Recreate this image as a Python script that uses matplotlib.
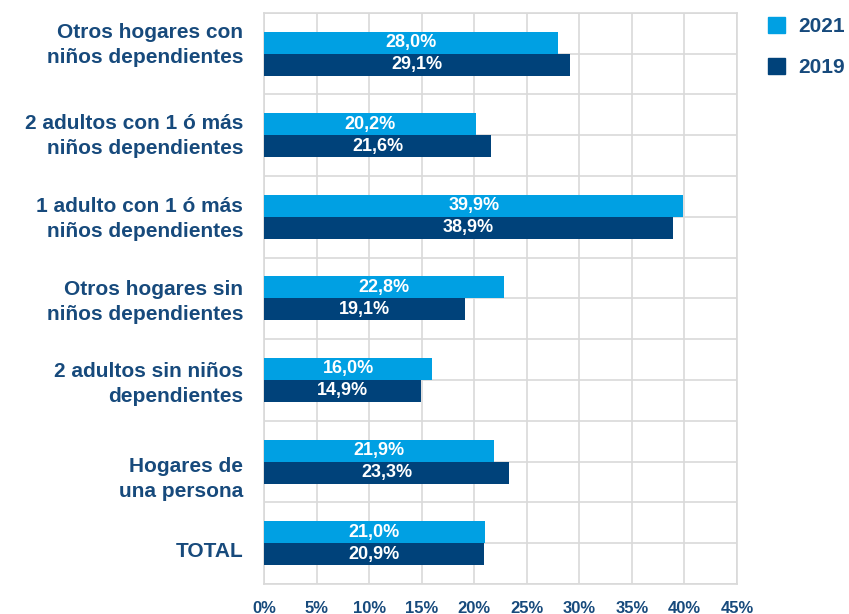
import matplotlib
matplotlib.use("Agg")
import matplotlib.pyplot as plt
import numpy as np
from matplotlib.patches import Patch
from matplotlib.transforms import ScaledTranslation

plt.rcParams['font.family'] = ['Liberation Sans', 'DejaVu Sans']

categories = ["Otros hogares con\nniños dependientes",
              "2 adultos con 1 ó más\nniños dependientes",
              "1 adulto con 1 ó más\nniños dependientes",
              "Otros hogares sin\nniños dependientes",
              "2 adultos sin niños\ndependientes",
              "Hogares de\nuna persona",
              "TOTAL"]
v2021 = [28.0, 20.2, 39.9, 22.8, 16.0, 21.9, 21.0]
v2019 = [29.1, 21.6, 38.9, 19.1, 14.9, 23.3, 20.9]
series_labels = ["2021", "2019"]
xticks = [0, 5, 10, 15, 20, 25, 30, 35, 40, 45]

c21 = "#00A0E3"
c19 = "#00427A"
txt = "#174A7C"

fig = plt.figure(figsize=(8.49, 6.14), dpi=100)
ax = fig.add_axes([0.311, 0.049, 0.557, 0.93])

n = len(categories)
y = np.arange(n)[::-1].astype(float)
h = 0.27
b1 = ax.barh(y + h/2, v2021, height=h, color=c21, zorder=3)
b2 = ax.barh(y - h/2, v2019, height=h, color=c19, zorder=3)

def fmt(v):
    return f"{v:.1f}%".replace(".", ",")

for bars, vals in ((b1, v2021), (b2, v2019)):
    for r, v in zip(bars, vals):
        ax.text(v / 2, r.get_y() + r.get_height() / 2, fmt(v), ha="center", va="center",
                color="white", fontsize=13, fontweight="bold", zorder=4)

ax.set_xlim(0, 45)
ax.set_ylim(-0.5, n - 0.5)
ax.set_xticks(xticks)
ax.set_xticklabels([f"{t}%" for t in xticks])
ax.set_yticks(y)
ax.set_yticklabels([])
ax.set_yticks(np.arange(-0.5, n, 1.0), minor=True)
ax.tick_params(axis="both", length=0, which="both")
ax.tick_params(axis="x", pad=12, labelsize=12, labelcolor=txt)
for lab in ax.get_xticklabels():
    lab.set_fontweight("bold")

# category labels (small vertical offsets in pixels as in the reference layout)
label_dy_px = [-9, 1, 2, 4, 4, 17, 8]
for yi, lab, dy in zip(y, categories, label_dy_px):
    tr = ax.get_yaxis_transform() + ScaledTranslation(-21 / 100, -dy / 100, fig.dpi_scale_trans)
    ax.text(0, yi, lab, transform=tr, ha="right", va="center", multialignment="right",
            fontsize=15, fontweight="bold", color=txt, linespacing=1.4)

ax.grid(True, which="both", color="#D9D9D9", linewidth=1.2, zorder=0)
for s in ax.spines.values():
    s.set_color("#D9D9D9")
    s.set_linewidth(1.2)

handles = [Patch(color=c21), Patch(color=c19)]
leg = fig.legend(handles, series_labels, loc="upper left", bbox_to_anchor=(0.8825, 1.003),
                 frameon=False, handlelength=0.82, handleheight=0.82, handletextpad=0.62,
                 labelspacing=1.05, prop={"size": 15, "weight": "bold"})
for t in leg.get_texts():
    t.set_color(txt)

fig.savefig("out.png", dpi=100)
